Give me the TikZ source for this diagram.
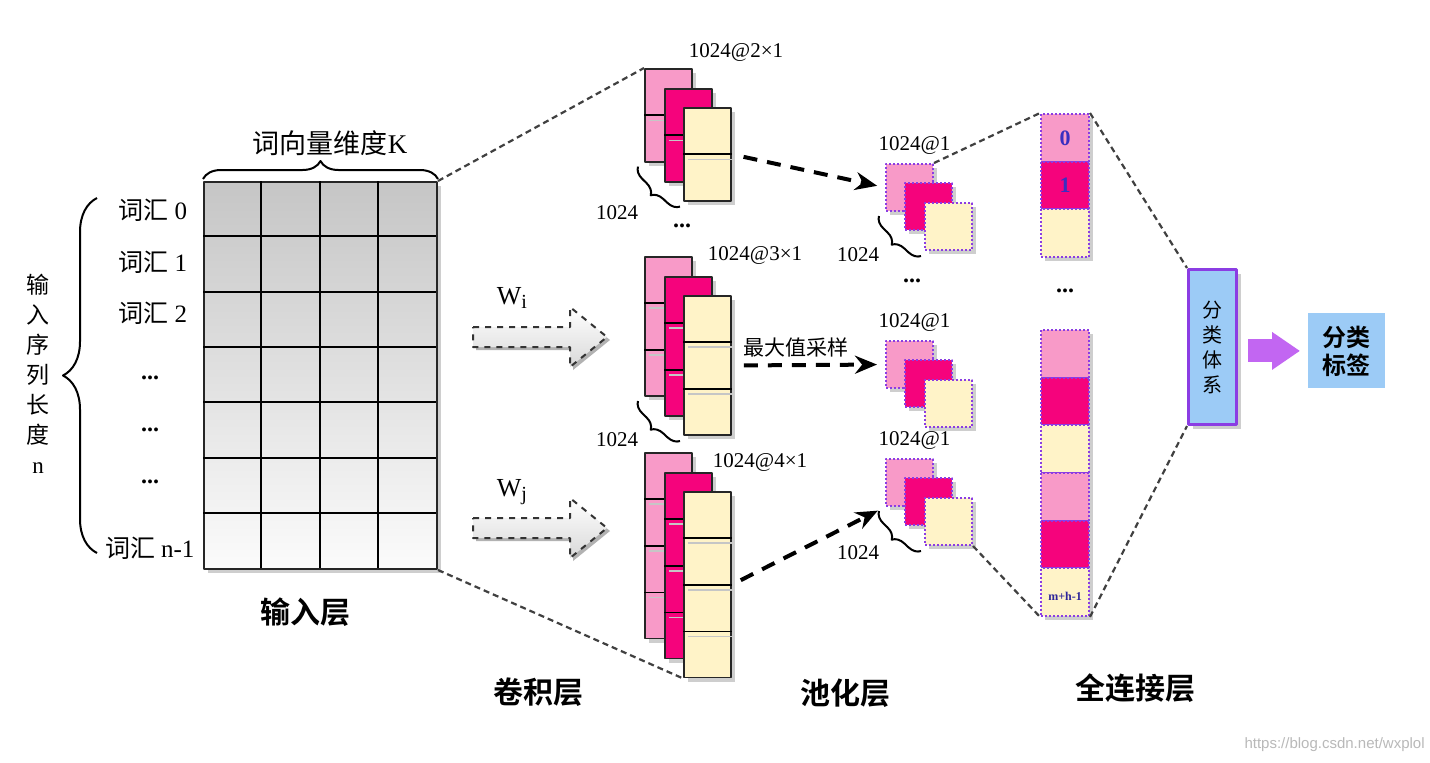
\documentclass[tikz,border=0pt]{standalone}
\usepackage{fontspec}
\setmainfont{Liberation Serif}
\setsansfont{Liberation Sans}
\newfontfamily\cjk{Noto Sans CJK SC}[BoldFont={Noto Sans CJK SC Bold}]
\usetikzlibrary{arrows.meta,calc,shadows,decorations.pathreplacing}
\definecolor{softpink}{HTML}{F89AC8}
\definecolor{hotpink}{HTML}{F5037C}
\definecolor{cream}{HTML}{FFF3C8}
\definecolor{skyblue}{HTML}{9CCBF6}
\definecolor{fcviolet}{HTML}{8B3DE3}
\definecolor{arrviolet}{HTML}{C266F2}
\definecolor{numblue}{HTML}{3A2FC0}
\begin{document}
\begin{tikzpicture}[x=0.5pt,y=-0.5pt,line join=round,>=stealth]
            \tikzset{lbl/.style={font=\fontsize{10.5}{12}\selectfont,inner sep=0pt},
                cn/.style={font=\cjk\fontsize{#1}{#1}\selectfont,inner sep=0pt},
                ttl/.style={font=\cjk\bfseries\fontsize{15}{15}\selectfont,inner sep=0pt},
                soft shadow/.style={drop shadow={shadow xshift=2pt,shadow yshift=-2pt,opacity=.35,fill=black!55}},
                fmap/.style={draw=black!85,line width=0.9pt,anchor=north west,inner sep=0pt,minimum width=23.5pt,soft shadow},
                pcell/.style={draw=fcviolet,densely dotted,line width=1pt,anchor=north west,inner sep=0pt,minimum width=23.5pt,minimum height=23.5pt,soft shadow},
                guide/.style={black!75,line width=1.1pt,dash pattern=on 3pt off 2pt},
                pool arrow/.style={line width=2pt,dash pattern=on 7pt off 5pt,-{Stealth[length=11pt,width=9pt]}},
                bracey/.style={decorate,decoration={brace,amplitude=#1},line width=1pt},
                dotsy/.style={font=\bfseries\fontsize{12}{12}\selectfont,inner sep=0pt}}
            \fill[white] (0,0) rectangle (1430,762);
            \useasboundingbox (0,0) rectangle (1430,762);
            \node[draw=black!85,line width=1pt,anchor=north west,inner sep=0pt,minimum width=116.5pt,minimum height=193.5pt,top color=gray!45,bottom color=gray!3,soft shadow] (inmat) at (203,181) {};
            \foreach \i in {1,2,3}
            \draw[line width=1pt] (inmat.north west) ++(\i*58.25,0) -- ++(0,387);
            \foreach \j in {1,...,6}
            \draw[line width=1pt] (inmat.north west) ++(0,\j*55.3) -- ++(233,0);
            \draw[bracey=9pt] ($(inmat.north west)+(0,-2)$) -- ($(inmat.north east)+(0,-2)$);
            \node[cn=13.5] (kdim) at (330,143) {词向量维度{\rmfamily K}};
            \node[cn=12.5] (w0) at (153,210) {词汇 {\rmfamily 0}};
            \node[cn=12.5] (w1) at (153,262) {词汇 {\rmfamily 1}};
            \node[cn=12.5] (w2) at (153,313) {词汇 {\rmfamily 2}};
            \node[dotsy] (d1) at (150,378) {...};
            \node[dotsy] (d2) at (150,430) {...};
            \node[dotsy] (d3) at (150,482) {...};
            \node[cn=12.5] (wn) at (150,548) {词汇 {\rmfamily n-1}};
            \draw[bracey=17pt] (97,553) -- (97,198);
            \node[inner sep=0pt,align=center,font=\cjk\fontsize{11.5}{15}\selectfont] (seqlen) at (38,374) {输\\入\\序\\列\\长\\度\\{\rmfamily n}};
            \node[ttl] (tin) at (305,612) {输入层};
            \foreach \yy/\sub in {337/i,528/j}{
                \fill[black!30] (476,\yy-7) -- (573,\yy-7) -- (573,\yy-27) -- (610,\yy+3) -- (573,\yy+33) -- (573,\yy+13) -- (476,\yy+13) -- cycle;
                \draw[black!80,dashed,line width=1pt,top color=white,bottom color=gray!30] (473,\yy-10) -- (570,\yy-10) -- (570,\yy-30) -- (607,\yy) -- (570,\yy+30) -- (570,\yy+10) -- (473,\yy+10) -- cycle;
            }
            \node[font=\fontsize{13}{13}\selectfont,inner sep=0pt] (wi) at (512,298) {W\raisebox{-0.4ex}{\fontsize{10}{10}\selectfont i}};
            \node[font=\fontsize{13}{13}\selectfont,inner sep=0pt] (wj) at (512,492) {W\raisebox{-0.4ex}{\fontsize{10}{10}\selectfont j}};
            \foreach \s/\top/\n in {1/68/2,2/256/3,3/452/4}{
                \foreach \l/\dx/\col in {a/0/softpink,b/20/hotpink,c/39/cream}{
                    \node[fmap,fill=\col,minimum height=\n*23.2pt] (c\s\l) at (644+\dx,\top+\dx) {};
                    \pgfmathtruncatemacro\m{\n-1}
                    \foreach \k in {1,...,\m}{
                        \draw[gray!45,line width=0.8pt] ($(c\s\l.north west)!\k/\n!(c\s\l.south west)+(5,5)$) -- ($(c\s\l.north east)!\k/\n!(c\s\l.south east)+(0,5)$);
                        \draw[line width=0.9pt] ($(c\s\l.north west)!\k/\n!(c\s\l.south west)$) -- ($(c\s\l.north east)!\k/\n!(c\s\l.south east)$);
                    }
                }
            }
            \node[lbl] (c1t) at (736,52) {1024@2×1};
            \node[lbl] (c2t) at (755,255) {1024@3×1};
            \node[lbl] (c3t) at (760,462) {1024@4×1};
            \draw[bracey=6pt] ($(c1c.south west)+(-3,5)$) -- ($(c1a.south west)+(-6,4)$);
            \node[lbl] (c1n) at (617,213) {1024};
            \draw[bracey=6pt] ($(c2c.south west)+(-3,5)$) -- ($(c2a.south west)+(-6,4)$);
            \node[lbl] (c2n) at (617,440) {1024};
            \node[dotsy] (cdots) at (682,226) {...};
            \node[ttl] (tconv) at (538,692) {卷积层};
            \foreach \s/\top in {1/163,2/340,3/458}{
                \foreach \l/\dx/\col in {a/0/softpink,b/19/hotpink,c/39/cream}
                \node[pcell,fill=\col] (p\s\l) at (885+\dx,\top+\dx) {};
                \node[lbl] (pt\s) at ($(p\s a.north)+(5,-18)$) {1024@1};
            }
            \draw[bracey=6pt] ($(p1c.south west)+(-3,5)$) -- ($(p1a.south west)+(-6,4)$);
            \node[lbl] (p1n) at (858,255) {1024};
            \draw[bracey=6pt] ($(p3c.south west)+(-3,5)$) -- ($(p3a.south west)+(-6,4)$);
            \node[lbl] (p3n) at (858,553) {1024};
            \node[dotsy] (pdots) at (912,281) {...};
            \node[ttl] (tpool) at (845,693) {池化层};
            \draw[pool arrow,shorten <=6pt,shorten >=4pt] (c1c.east) -- (p1a.west);
            \draw[pool arrow,shorten <=6pt,shorten >=4pt] (c2c.east) -- (p2a.west);
            \draw[pool arrow,shorten <=5pt,shorten >=4pt] (c3c.east) -- (p3a.south west);
            \node[cn=10.5] (maxpool) at (796,347) {最大值采样};
            \foreach \i/\y/\col in {1/113/softpink,2/160.5/hotpink,3/208/cream,4/329/softpink,5/376.7/hotpink,6/424.3/cream,7/472/softpink,8/519.7/hotpink,9/567.3/cream}
            \node[pcell,fill=\col,minimum width=24pt,minimum height=23.8pt] (f\i) at (1040,\y) {};
            \node[font=\bfseries\fontsize{11}{11}\selectfont,text=numblue,inner sep=0pt] (f1t) at (f1) {0};
            \node[font=\bfseries\fontsize{11}{11}\selectfont,text=numblue,inner sep=0pt] (f2t) at (f2) {1};
            \node[font=\bfseries\fontsize{6}{6}\selectfont,text=numblue!80!black,inner sep=0pt] (f9t) at ($(f9)+(0,4)$) {m+h-1};
            \node[dotsy] (fdots) at (1065,291) {...};
            \node[ttl] (tfc) at (1135,688) {全连接层};
            \node[draw=fcviolet,line width=1.5pt,fill=skyblue,anchor=north west,inner sep=0pt,minimum width=24pt,minimum height=77.5pt,align=center,font=\cjk\fontsize{10}{12.5}\selectfont,soft shadow] (sys) at (1187,268) {分\\类\\体\\系};
            \node[fill=skyblue,anchor=north west,inner sep=0pt,minimum width=38.5pt,minimum height=37.5pt,align=center,font=\cjk\bfseries\fontsize{12}{14}\selectfont] (lab) at (1308,313) {分类\\标签};
            \draw[arrviolet,line width=11.5pt,-{Triangle[length=14pt,width=18pt]},shorten <=5pt,shorten >=4pt] (sys.east |- lab.west) -- (lab.west);
            \draw[guide] (inmat.north east) -- (c1a.north west);
            \draw[guide] (inmat.south east) -- (c3c.south west);
            \draw[guide] (p1a.north east) -- (f1.north west);
            \draw[guide] (p3c.south east) -- (f9.south west);
            \draw[guide] (f1.north east) -- (sys.north west);
            \draw[guide] (f9.south east) -- (sys.south west);
            \node[anchor=east,font=\sffamily\fontsize{7.5}{8}\selectfont,text=gray!55,inner sep=0pt] (wmark) at (1425,745) {https://blog.csdn.net/wxplol};
        \end{tikzpicture}
\end{document}
